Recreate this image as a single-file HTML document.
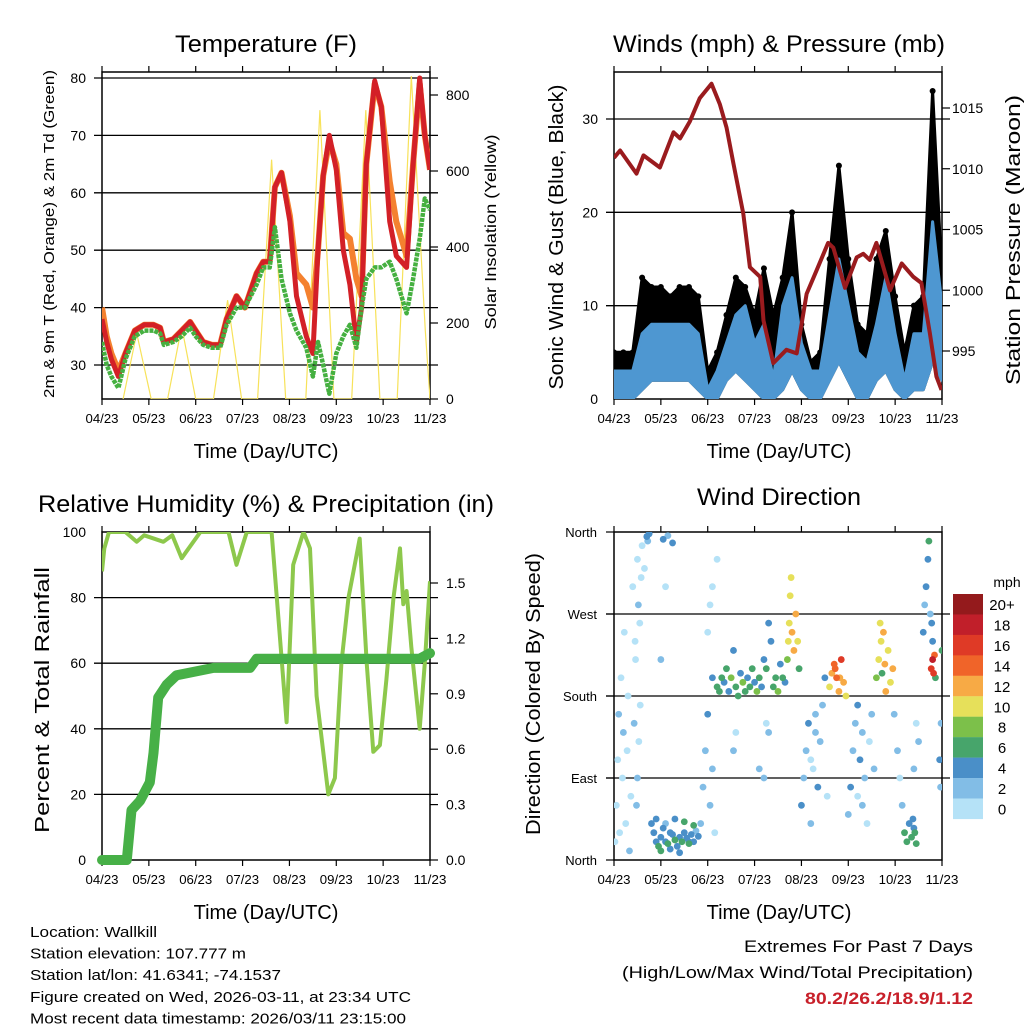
<!DOCTYPE html>
<html><head><meta charset="utf-8"><style>
html,body{margin:0;padding:0;background:#fff}
svg{display:block;font-family:"Liberation Sans",sans-serif}
</style></head><body>
<svg id="c" width="1024" height="1024" viewBox="0 0 1024 1024" xmlns="http://www.w3.org/2000/svg">
<defs>
<clipPath id="k1"><rect x="102" y="72" width="328" height="327"/></clipPath>
<clipPath id="k2"><rect x="614" y="72" width="328" height="327"/></clipPath>
<clipPath id="k3"><rect x="102" y="532" width="328" height="328"/></clipPath>
<clipPath id="k4"><rect x="614" y="532" width="328" height="328"/></clipPath>
</defs>
</svg>
<script>
// ---------- data ----------
const dayTicks = ["04/23","05/23","06/23","07/23","08/23","09/23","10/23","11/23"];
// Temperature (F)
const tDay  = [0,0.1,0.2,0.35,0.5,0.7,0.9,1.1,1.24,1.32,1.52,1.7,1.88,2.0,2.16,2.35,2.52,2.66,2.87,3.05,3.3,3.44,3.58,3.69,3.83,4.01,4.15,4.36,4.5,4.61,4.72,4.85,5.0,5.15,5.29,5.43,5.54,5.64,5.82,5.96,6.14,6.28,6.5,6.64,6.78,6.89,7.0];
const tRed  = [38,34,31,28,32,36,37,37,36.5,34,34.5,36,37.5,36,34,33.5,33.5,38,42,40,46,48,48,61,63.5,55,42,35,32,50,63,70,64,50,44,34,40,65,79.5,75,55,49,47,65,80,70,64];
const tOrg  = [40,35,32,29,32,36,37,37,36.5,34,34.5,36,37.5,36,34,33.5,33.5,38,42,40,46,48,48,61,63.5,56,46,44,40,50,63,69,65,53,52,45,42,65,79,75,62,55,49,65,79,70,64];
const tDew  = [34,30,28,26,31,35,36,36,35.5,33.5,34,35,36.5,35,33.5,33,33,37,40,40,44,47,47,54,45,39,36,33,28,34,30,25,32,35,37,33,40,45,47,47,48,45,39,45,52,59,57];
const sDay  = [0.45,0.74,1.05,1.4,1.7,2.0,2.38,2.68,2.98,3.32,3.62,3.92,4.35,4.65,4.95,5.33,5.63,5.93,6.3,6.6,6.9,7.0];
const sVal  = [0,173,0,0,190,0,0,260,0,0,630,0,0,760,0,0,760,0,0,850,180,0];
// Winds (mph) & pressure (mb)
const wDay  = [0,0.2,0.4,0.6,0.8,1.0,1.2,1.4,1.6,1.8,2.0,2.2,2.4,2.6,2.8,3.0,3.2,3.4,3.6,3.8,4.0,4.2,4.4,4.6,4.8,5.0,5.2,5.4,5.6,5.8,6.0,6.2,6.4,6.6,6.8,7.0];
const wLo   = [0,0,0,1,2,2,2,2,2,1,0,0,2,3,2,1,0,0,1,3,1,0,0,2,4,2,0,0,2,3,1,0,1,1,4,2];
const wHi   = [3,3,3,7,8,8,8,8,8,7,1,3,6,9,10,6,8,2,10,13,6,3,3,9,15,10,5,4,8,13,7,2,7,7,19,10];
const gHi   = [5,5,5,13,12,12,11,12,12,11,3,5,9,13,12,9,14,9,13,20,8,4,5,15,25,15,8,7,15,18,11,5,10,11,33,13];
const pDayP = [0,0.13,0.48,0.63,0.98,1.27,1.41,1.62,1.83,2.08,2.26,2.4,2.55,2.76,2.9,3.12,3.19,3.4,3.68,3.9,4.11,4.32,4.57,4.68,4.93,5.18,5.32,5.46,5.6,5.89,6.14,6.39,6.56,6.74,6.88,6.99];
const pres  = [1010.9,1011.5,1009.6,1011.1,1010.1,1013,1012.5,1013.9,1015.8,1017,1015.3,1013.4,1010.4,1006.3,1001.9,1001.1,997.5,994,995.1,994.8,999.7,1001.6,1003.9,1003.5,1000.2,1002.7,1003,1002.5,1003.9,1000,1002.2,1001.1,1000.6,996.5,992.9,991.8];
// RH (%) & precip (in)
const rDay  = [0,0.05,0.15,0.5,0.74,0.9,1.31,1.5,1.7,1.8,2.1,2.7,2.87,3.09,3.62,3.73,3.94,4.08,4.3,4.44,4.58,4.83,4.97,5.11,5.26,5.5,5.65,5.79,5.93,6.07,6.22,6.36,6.43,6.5,6.6,6.78,6.89,7.0];
const rVal  = [88,95,100,100,97,99,97,99,92,94,100,100,90,100,100,80,42,90,100,95,50,20,25,60,80,98,60,33,35,55,80,95,78,82,65,40,60,85];
const prDay = [0,0.53,0.63,0.81,1.02,1.1,1.2,1.38,1.59,2.38,3.16,3.3,6.78,7.0];
const prVal = [0,0,0.27,0.32,0.42,0.58,0.88,0.95,1.0,1.04,1.04,1.09,1.09,1.12];
// Wind direction: day, direction (deg), speed (mph)
const wdDay = [0.02,0.05,0.08,0.1,0.12,0.15,0.18,0.2,0.22,0.25,0.28,0.3,0.33,0.36,0.4,0.43,0.46,0.5,0.52,0.55,0.58,0.48,0.5,0.53,0.56,0.45,0.6,
0.65,0.7,0.72,0.75,0.8,0.85,0.9,0.95,1.0,1.05,1.1,1.15,1.2,1.25,1.3,1.35,1.4,1.45,1.5,1.55,1.6,1.65,1.7,1.75,1.8,0.9,1.0,1.1,1.2,1.3,1.4,1.5,1.6,1.7,1.05,1.15,1.25,1.0,1.1,
1.85,1.9,1.95,2.0,2.05,2.1,2.15,2.0,2.05,2.1,2.2,
2.1,2.2,2.25,2.3,2.35,2.4,2.45,2.5,2.55,2.6,2.65,2.7,2.75,2.8,2.85,2.9,2.95,3.0,3.05,3.1,3.15,3.2,3.25,3.3,3.35,3.4,3.45,3.5,3.55,3.6,3.65,2.55,2.6,3.1,3.2,3.3,3.25,
3.7,3.72,3.74,3.76,3.78,3.8,3.84,3.88,3.92,3.95,
4.0,4.05,4.1,4.15,4.2,4.25,4.3,4.35,4.4,4.45,4.5,4.55,4.2,4.3,
4.6,4.65,4.7,4.75,4.8,4.85,4.9,4.95,4.72,4.82,
5.0,5.05,5.1,5.15,5.2,5.25,5.3,5.35,5.4,5.45,5.5,5.55,5.2,5.3,
5.6,5.65,5.7,5.75,5.8,5.85,5.9,5.95,5.68,5.78,5.72,
5.98,6.05,6.1,6.15,6.2,6.25,6.3,6.4,6.45,6.5,6.35,6.4,6.45,6.38,6.42,
6.6,6.63,6.66,6.7,6.72,6.75,6.78,6.8,6.77,6.8,6.82,6.84,6.86,6.95,6.97,6.98,7.0];
const wdDir = [20,60,110,160,30,200,90,140,250,40,120,180,10,70,300,150,220,330,280,260,310,60,90,130,170,240,345,
320,355,350,358,40,30,20,15,25,35,20,18,30,28,22,15,25,20,30,24,18,28,20,32,26,45,10,40,12,45,8,42,20,38,352,356,348,220,300,
40,80,120,160,60,100,30,250,280,300,330,
200,190,185,200,195,210,185,200,230,190,180,205,195,185,200,190,210,195,185,200,190,220,210,260,240,190,200,185,215,200,195,120,140,100,90,140,150,
220,240,260,290,310,250,230,270,240,210,
60,90,120,150,40,100,160,80,130,170,200,70,110,140,
190,205,215,200,185,220,195,180,210,200,
50,80,120,150,70,110,140,90,40,130,160,100,170,60,
200,220,240,250,185,230,195,210,260,215,205,
160,120,90,60,30,20,40,100,150,130,25,35,18,45,30,
250,280,300,330,350,270,260,240,210,220,205,225,200,110,80,150,230];
const wdSpd = [1,0,1,2,1,0,1,2,0,1,0,1,2,1,0,2,1,0,2,1,0,3,2,1,1,0,1,
1,4,3,4,5,5,4,6,5,4,5,7,5,4,6,5,4,6,5,4,7,5,4,3,5,4,6,3,5,4,5,6,4,7,4,3,5,2,1,
3,2,2,4,3,2,1,1,0,1,0,
5,6,7,6,4,7,5,8,4,6,7,5,8,6,4,7,6,5,8,7,5,4,6,5,4,7,6,8,5,6,4,3,1,2,3,2,1,
9,11,10,10,11,13,12,12,11,7,
4,3,2,4,3,1,2,4,3,2,5,1,0,2,
11,13,14,15,12,16,13,10,15,12,
3,4,2,3,1,4,2,3,1,0,2,3,4,2,
9,10,11,12,13,10,11,12,10,13,6,
3,2,1,3,6,7,5,2,1,3,6,4,7,5,6,
4,3,5,4,7,3,4,5,16,18,17,15,6,4,3,2,7];
// ---------- helpers ----------
const NS="http://www.w3.org/2000/svg";
const svg=document.getElementById('c');
function el(tag,attrs,parent,text){const e=document.createElementNS(NS,tag);for(const k in attrs)e.setAttribute(k,attrs[k]);if(text!==undefined)e.textContent=text;(parent||svg).appendChild(e);return e;}
function lin(d0,d1,r0,r1){return v=>r0+(v-d0)*(r1-r0)/(d1-d0);}
function txt(x,y,s,size,anchor,name,extra){const t=el('text',Object.assign({x:x,y:y,'font-size':size,'text-anchor':anchor||'start',fill:'#000'},extra||{}),svg,s);return t;}
function line(x1,y1,x2,y2,stroke,w,parent){return el('line',{x1,y1,x2,y2,stroke,'stroke-width':w},parent);}
function pts(xs,ys,X,Y){return xs.map((d,i)=>X(d).toFixed(1)+','+Y(ys[i]).toFixed(1)).join(' ');}
function frame(x0,x1,y0,y1,X,name,gridYs,Y){
  const g=el('g',{});
  gridYs.forEach(v=>{const l=line(x0-8,Y(v),x1+8,Y(v),'#000',1.3,g);});
  el('rect',{x:x0,y:y0,width:x1-x0,height:y1-y0,fill:'none',stroke:'#000','stroke-width':1.5},g);
  dayTicks.forEach((s,i)=>{const x=X(i);line(x,y1,x,y1+6,'#000',1.2,g);line(x,y0,x,y0-6,'#000',1.2,g);
    const t=txt(x,y1+24,s,13,'middle','x-tick-label');t.setAttribute('textLength','33');t.setAttribute('lengthAdjust','spacingAndGlyphs');});
  return g;
}
function title(x,y,s,name,len){const t=txt(x,y,s,24,'middle',name);if(len){t.setAttribute('textLength',len);t.setAttribute('lengthAdjust','spacingAndGlyphs');}return t;}
function vtitle(x,y,s,size,name,len){const t=txt(0,0,s,size,'middle',name,{transform:`translate(${x},${y}) rotate(-90)`});if(len){t.setAttribute('textLength',len);t.setAttribute('lengthAdjust','spacingAndGlyphs');}return t;}

// ---------- Panel 1: Temperature ----------
{
const X=lin(0,7,102,430),Y=lin(30,80,365,78),YS=lin(0,800,399,95);
frame(102,430,72,399,X,'temperature',[30,40,50,60,70,80],Y);
[30,40,50,60,70,80].forEach(v=>{const t=txt(86,Y(v)+5,String(v),14,'end','y-tick-label');});
[0,200,400,600,800].forEach(v=>{line(430,YS(v),438,YS(v),'#000',1.2);txt(446,YS(v)+5,String(v),14,'start','y2-tick-label');});
const g=el('g',{'clip-path':'url(#k1)'});
const s=el('polyline',{points:pts(sDay,sVal,X,YS),fill:'none',stroke:'#f7e25a','stroke-width':1.2},g);

const o=el('polyline',{points:pts(tDay,tOrg,X,Y),fill:'none',stroke:'#f4812f','stroke-width':6,'stroke-linejoin':'round'},g);

const r=el('polyline',{points:pts(tDay,tRed,X,Y),fill:'none',stroke:'#d32027','stroke-width':5,'stroke-linejoin':'round'},g);

const d=el('polyline',{points:pts(tDay,tDew,X,Y),fill:'none',stroke:'#45b040','stroke-width':4.5,'stroke-dasharray':'4 1','stroke-linejoin':'round'},g);

title(266,52,'Temperature (F)','temperature-title',182);
txt(266,458,'Time (Day/UTC)',20,'middle','x-axis-title');
vtitle(54,234,'2m & 9m T (Red, Orange) & 2m Td (Green)',15,'y-axis-title',328);
vtitle(496,232,'Solar Insolation (Yellow)',16,'y2-axis-title',195);
}
// ---------- Panel 2: Winds & Pressure ----------
{
const X=lin(0,7,614,942),Y=lin(0,30,399,119),YP=lin(995,1015,351,108);
frame(614,942,72,399,X,'winds',[10,20,30],Y);
[0,10,20,30].forEach(v=>{txt(598,Y(v)+5,String(v),14,'end','y-tick-label');});
[995,1000,1005,1010,1015].forEach(v=>{line(942,YP(v),950,YP(v),'#000',1.2);txt(952,YP(v)+5,String(v),14,'start','y2-tick-label');});
const g=el('g',{'clip-path':'url(#k2)'});
const top=wDay.map((d,i)=>X(d).toFixed(1)+','+Y(gHi[i]).toFixed(1));
const bot=wDay.map((d,i)=>X(d).toFixed(1)+','+Y(wLo[i]).toFixed(1)).reverse();
const gp=el('polygon',{points:top.concat(bot).join(' '),fill:'#000',stroke:'#000','stroke-width':3,'stroke-linejoin':'round'},g);

wDay.forEach((d,i)=>{const c=el('circle',{cx:X(d),cy:Y(gHi[i]),r:3,fill:'#000'},g);

});
const top2=wDay.map((d,i)=>X(d).toFixed(1)+','+Y(wHi[i]).toFixed(1));
const bp=el('polygon',{points:top2.concat(bot).join(' '),fill:'#4e97d1',stroke:'#4e97d1','stroke-width':3,'stroke-linejoin':'round'},g);

const p=el('polyline',{points:pts(pDayP,pres,X,YP),fill:'none',stroke:'#9a1b1e','stroke-width':4,'stroke-linejoin':'round'},g);

title(779,52,'Winds (mph) & Pressure (mb)','winds-title',332);
txt(779,458,'Time (Day/UTC)',20,'middle','x-axis-title');
vtitle(563,237,'Sonic Wind & Gust (Blue, Black)',20,'y-axis-title',305);
vtitle(1020,240,'Station Pressure (Maroon)',20,'y2-axis-title',290);
}
// ---------- Panel 3: RH & Precip ----------
{
const X=lin(0,7,102,430),Y=lin(0,100,860,532),YR=lin(0,1.5,860,583);
frame(102,430,532,860,X,'humidity',[20,40,60,80],Y);
[0,20,40,60,80,100].forEach(v=>{txt(86,Y(v)+5,String(v),14,'end','y-tick-label');});
['0.0','0.3','0.6','0.9','1.2','1.5'].forEach(s=>{const v=parseFloat(s);line(430,YR(v),438,YR(v),'#000',1.2);txt(446,YR(v)+5,s,14,'start','y2-tick-label');});
const g=el('g',{'clip-path':'url(#k3)'});
const r=el('polyline',{points:pts(rDay,rVal,X,Y),fill:'none',stroke:'#8dc84c','stroke-width':4,'stroke-linejoin':'round'},g);

const pr=el('polyline',{points:pts(prDay,prVal,X,YR),fill:'none',stroke:'#47b047','stroke-width':10,'stroke-linejoin':'round','stroke-linecap':'round'},svg);

title(266,512,'Relative Humidity (%) & Precipitation (in)','humidity-title',456);
txt(266,919,'Time (Day/UTC)',20,'middle','x-axis-title');
vtitle(49,700,'Percent & Total Rainfall',20,'y-axis-title',266);
}
// ---------- Panel 4: Wind Direction ----------
{
const X=lin(0,7,614,942),Y=lin(0,360,860,532);
frame(614,942,532,860,X,'wind-direction',[90,180,270],Y);
const lbl=['North','East','South','West','North'];
[0,90,180,270,360].forEach((v,i)=>{txt(597,Y(v)+5,lbl[i],13,'end','y-tick-label');line(606,Y(v),614,Y(v),'#000',1.2);});
const cols=['#b5e2f7','#82bde6','#4a8fc8','#47a56b','#7cc04a','#e6e05a','#f7aa45','#f06429','#df3a26','#c11f2a','#941a1c'];
const g=el('g',{'clip-path':'url(#k4)'});
const order=wdSpd.map((s,i)=>i).sort((a,b)=>wdSpd[a]-wdSpd[b]);
order.forEach(i=>{const c=el('circle',{cx:X(wdDay[i]),cy:Y(wdDir[i]),r:3.4,fill:cols[Math.min(10,Math.floor(wdSpd[i]/2))]},g);

});
// colorbar
const cb=el('g',{});
const labs=['20+','18','16','14','12','10','8','6','4','2','0'];
labs.forEach((s,k)=>{const y=594+k*20.45;el('rect',{x:953,y:y,width:30,height:20.6,fill:cols[10-k]},cb);
txt(1002,y+16,s,15,'middle','colorbar-label');});
txt(1007,587,'mph',14,'middle','colorbar-title');
title(779,505,'Wind Direction','wind-direction-title',164);
txt(779,919,'Time (Day/UTC)',20,'middle','x-axis-title');
vtitle(540,694,'Direction (Colored By Speed)',20,'y-axis-title',282);
}
// ---------- Footer text ----------
const foot=[['Location: Wallkill',127],['Station elevation: 107.777 m',216],['Station lat/lon: 41.6341; -74.1537',251],['Figure created on Wed, 2026-03-11, at 23:34 UTC',381],['Most recent data timestamp: 2026/03/11 23:15:00',376]];
foot.forEach((f,i)=>{const t=txt(30,937+i*21.6,f[0],15,'start','station-info-line');t.setAttribute('textLength',f[1]);t.setAttribute('lengthAdjust','spacingAndGlyphs');});
const e1=txt(973,952,'Extremes For Past 7 Days',17,'end','extremes-heading');e1.setAttribute('textLength','229');e1.setAttribute('lengthAdjust','spacingAndGlyphs');
const e2=txt(973,978,'(High/Low/Max Wind/Total Precipitation)',17,'end','extremes-subheading');e2.setAttribute('textLength','351');e2.setAttribute('lengthAdjust','spacingAndGlyphs');
const e3=txt(973,1004,'80.2/26.2/18.9/1.12',17,'end','extremes-values',{fill:'#c8202a','font-weight':'bold'});e3.setAttribute('textLength','168');e3.setAttribute('lengthAdjust','spacingAndGlyphs');
</script>
</body></html>
